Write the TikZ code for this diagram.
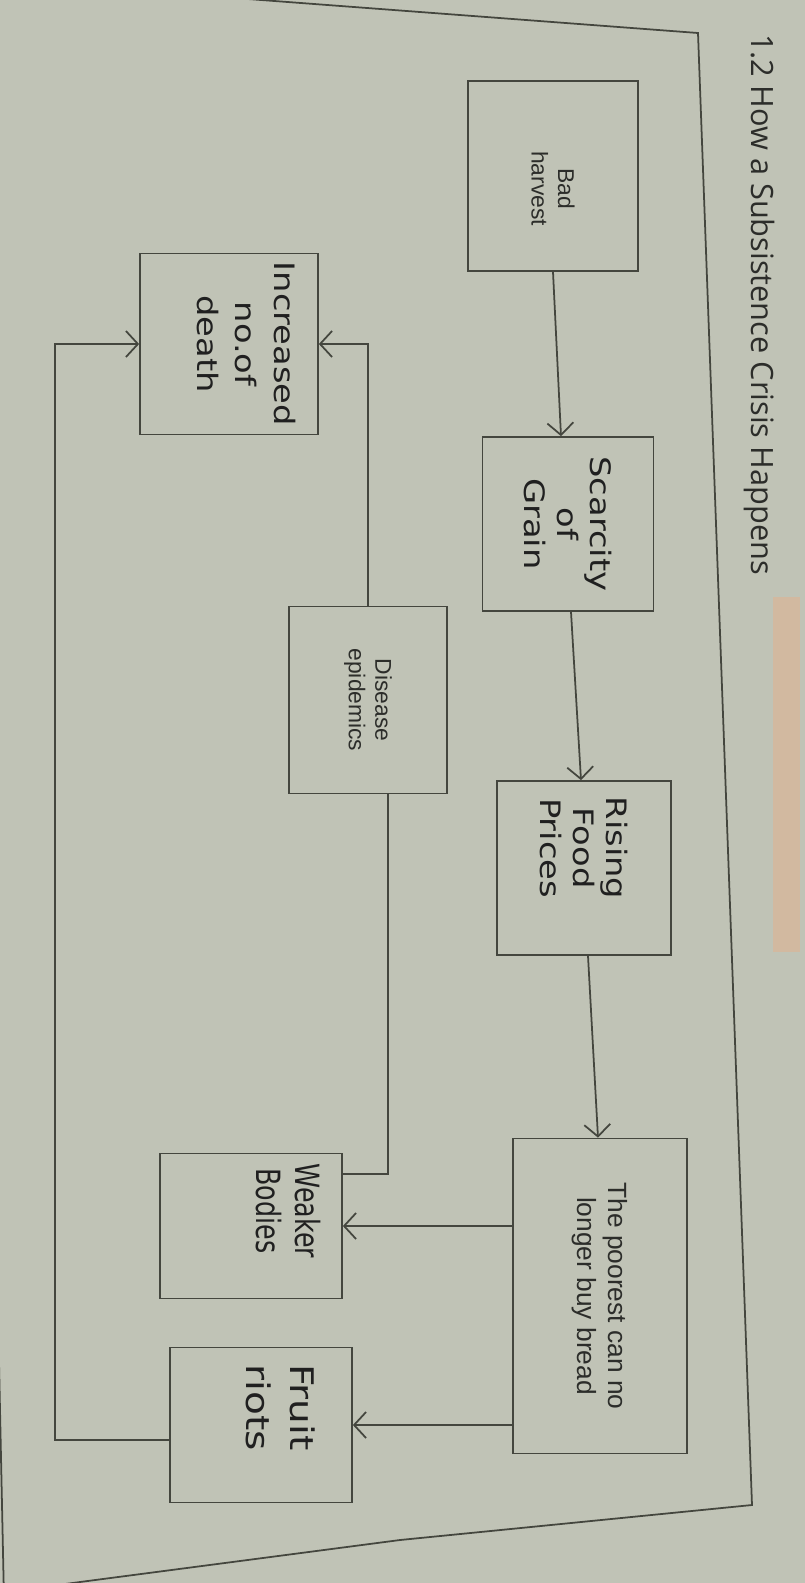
\documentclass[tikz,border=0pt]{standalone}
\usepackage{fontspec}
\setmainfont{Liberation Sans}
\newfontfamily\titlefont{Open Sans}
\newfontfamily\handfont[FakeStretch=1.2]{DejaVu Sans}
\newfontfamily\handnarrow[FakeStretch=0.76]{DejaVu Sans}
\usetikzlibrary{arrows.meta}

\definecolor{paper}{RGB}{192,195,182}
\definecolor{ink}{RGB}{68,70,62}
\definecolor{print}{RGB}{44,45,42}
\definecolor{pen}{RGB}{32,32,32}
\definecolor{tanbar}{RGB}{210,185,160}

\begin{document}
\begin{tikzpicture}[x=0.02cm, y=-0.02cm,
    box/.style={draw=ink, line width=1pt, rotate=-90, align=center, inner sep=2pt,
                text=print, font=\fontsize{13}{15}\selectfont},
    hand/.style={box, text=pen, font=\handfont\fontsize{16}{19}\selectfont},
    arr/.style={draw=ink, line width=1pt, -{Straight Barb[length=2.4mm, width=5.2mm]}},
    link/.style={draw=ink, line width=1pt}]
			% Photographed page (image coordinates, y runs downwards)
			\fill[paper] (0,0) rectangle (805,1583);
			\useasboundingbox (0,0) rectangle (805,1583);
			% Frame of the figure
			\draw[link] (-30,-22) -- (698,33) -- (752,1505) -- (400,1540) -- (80,1582) -- (-10,1594);
			\draw[link] (-30,-22) -- (4,1600);
			% Title and its marker
			\node[rotate=-90, anchor=west, text=print, font=\titlefont\fontsize{17.5}{20}\selectfont] (title) at (759,28) {1.2 How a Subsistence Crisis Happens};
			\fill[tanbar] (773,597) rectangle (800,952);
			% Boxes (rotated: west = top, east = bottom, north = right, south = left)
			\node[box, minimum width=3.8cm, minimum height=3.4cm] (bad) at (553,176) {\hspace*{0.5cm}Bad\\\hspace*{0.5cm}harvest};
			\node[hand, minimum width=3.48cm, minimum height=3.42cm] (scarcity) at (568,524) {Scarcity\\of\\Grain};
			\node[hand, minimum width=3.48cm, minimum height=3.48cm] (rising) at (584,868) {Rising\kern0.8cm\\Food\kern0.8cm\\Prices\kern0.8cm};
			\node[box, minimum width=6.3cm, minimum height=3.48cm, font=\fontsize{15}{17.5}\selectfont] (poorest) at (600,1296) {The poorest can no\\longer buy bread};
			\node[hand, minimum width=3.62cm, minimum height=3.56cm, text depth=0.7cm, font=\handfont\fontsize{16}{22}\selectfont] (deaths) at (229,344) {Increased\\no.of\\death};
			\node[box, minimum width=3.74cm, minimum height=3.16cm] (disease) at (368,700) {Disease\\epidemics};
			\node[hand, minimum width=2.9cm, minimum height=3.64cm, text depth=1.5cm, font=\handnarrow\fontsize{19}{22}\selectfont] (weaker) at (251,1226) {Weaker\kern0.6cm\\Bodies\kern0.6cm};
			\node[hand, minimum width=3.1cm, minimum height=3.64cm, text depth=0.8cm, font=\handfont\fontsize{18.5}{25}\selectfont] (riots) at (261,1425) {Fruit\kern0.7cm\\riots\kern0.7cm};
			% Main chain
			\draw[arr] (bad.east) -- ([xshift=-0.14cm]scarcity.west);
			\draw[arr] ([xshift=0.06cm]scarcity.east) -- ([xshift=-0.06cm]rising.west);
			\draw[arr] ([xshift=0.08cm]rising.east) -- ([xshift=-0.04cm]poorest.west);
			% Out of the poorest
			\draw[arr] (poorest.south |- weaker.center) -- (weaker.north);
			\draw[arr] (poorest.south |- riots.center) -- (riots.north);
			% Back round to deaths
			\coordinate (loop) at (55,1440);
			\draw[arr] (riots.south |- loop) -- (loop) |- (deaths.south);
			\draw[arr] (disease.west) |- (deaths.north);
			\coordinate (weak bend) at (388,1174);
			\draw[link] (weaker.north |- weak bend) -| (disease.east -| weak bend);
\end{tikzpicture}
\end{document}
